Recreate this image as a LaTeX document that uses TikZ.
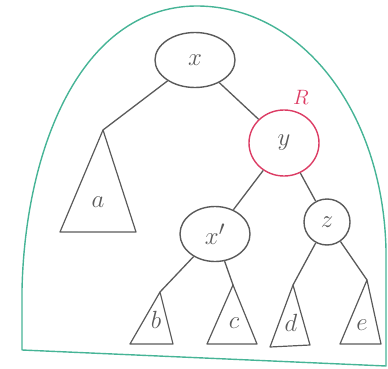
\documentclass[tikz,border=0pt]{standalone}
\usepackage{xcolor}
\usetikzlibrary{shapes.geometric,positioning}

\definecolor{domegreen}{RGB}{70,180,150}
\definecolor{redblack}{RGB}{220,60,100}
\definecolor{pencil}{RGB}{90,90,90}

\begin{document}
\begin{tikzpicture}[
    x=1pt, y=-1pt,
    font=\fontsize{32}{36}\selectfont,
    key/.style={draw=pencil, line width=1.4pt, ellipse, inner sep=0pt, text=pencil},
    redkey/.style={draw=redblack, line width=1.4pt, ellipse, inner sep=0pt, text=pencil},
    edge/.style={draw=pencil, line width=1.3pt},
    tri/.style={draw=pencil, line width=1.2pt, line join=round},
    sub/.style={text=pencil, font=\fontsize{26}{30}\selectfont},
    dome/.style={draw=domegreen, line width=1.4pt, line join=round},
]
\useasboundingbox (0,0) rectangle (388,369);

%% ── Outline ─────────────────────────────────────────────────────────────────
\draw[dome] (22,350) -- (22,290)
    .. controls (25,150) and (80,8) .. (195,6)
    .. controls (300,5) and (383,110) .. (386,250)
    -- (386,366) -- cycle;

%% ── Nodes ───────────────────────────────────────────────────────────────────
\node[key, minimum width=80pt, minimum height=55pt] (x)  at (195,60)  {$x$};
\node[redkey, minimum width=70pt, minimum height=66pt] (y) at (284,143) {$y$};
\node[text=redblack, font=\fontsize{22}{26}\selectfont] (R) at (301,97) {$R$};
\node[key, minimum width=70pt, minimum height=55pt] (xp) at (215,234) {$x'$};
\node[key, minimum width=46pt, minimum height=46pt] (z)  at (327,222) {$z$};

%% ── Subtree tops ────────────────────────────────────────────────────────────
\coordinate (ta) at (103,130);
\coordinate (tb) at (160,292);
\coordinate (tc) at (233,285);
\coordinate (td) at (293,285);
\coordinate (te) at (367,280);

%% ── Subtrees ────────────────────────────────────────────────────────────────
\draw[tri] (ta) -- (60,232) -- (136,232) -- cycle;
\draw[tri] (tb) -- (130,344) -- (173,344) -- cycle;
\draw[tri] (tc) -- (207,344) -- (257,344) -- cycle;
\draw[tri] (td) -- (270,347) -- (310,345) -- cycle;
\draw[tri] (te) -- (340,344) -- (381,344) -- cycle;

\node[sub] (la) at (98,202)  {$a$};
\node[sub] (lb) at (156,320) {$b$};
\node[sub] (lc) at (234,323) {$c$};
\node[sub] (ld) at (291,323) {$d$};
\node[sub] (le) at (362,325) {$e$};

%% ── Edges ───────────────────────────────────────────────────────────────────
\draw[edge] (x)  -- (ta);
\draw[edge] (x)  -- (y);
\draw[edge] (y)  -- (xp);
\draw[edge] (y)  -- (z);
\draw[edge] (xp) -- (tb);
\draw[edge] (xp) -- (tc);
\draw[edge] (z)  -- (td);
\draw[edge] (z)  -- (te);

\end{tikzpicture}
\end{document}
